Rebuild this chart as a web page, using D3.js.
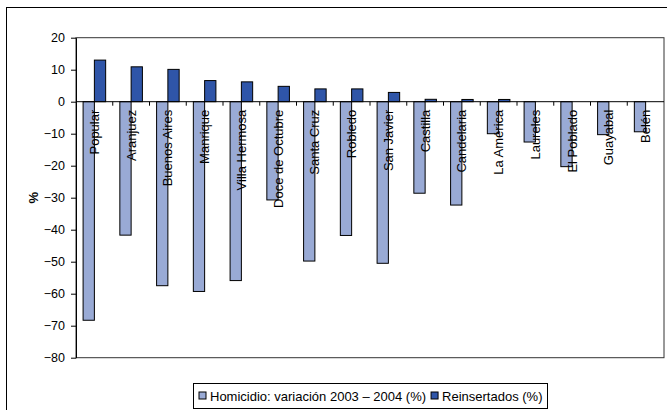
<!DOCTYPE html>
<html>
<head>
<meta charset="utf-8">
<script src="https://cdn.jsdelivr.net/npm/d3@7/dist/d3.min.js"></script>
<style>
  html, body { margin: 0; padding: 0; background: #fff; }
  svg { display: block; }
  text { font-family: "Liberation Sans", Arial, sans-serif; }
</style>
</head>
<body>
<svg id="chart" width="667" height="410"></svg>
<script>
const categories = ["Popular", "Aranjuez", "Buenos Aires", "Manrique", "Villa Hermosa",
  "Doce de Octubre", "Santa Cruz", "Robledo", "San Javier", "Castilla", "Candelaria",
  "La América", "Laureles", "El Poblado", "Guayabal", "Belén"];
const homicidio = [-68.3, -41.7, -57.5, -59.3, -55.9, -30.7, -49.8, -41.8, -50.5, -28.6,
  -32.3, -10.0, -12.6, -20.3, -10.3, -9.4];
const reinsertados = [13.0, 10.9, 10.1, 6.6, 6.2, 4.8, 4.0, 4.0, 2.9, 0.75, 0.7, 0.7, 0, 0, 0, 0];
const yTicks = [20, 10, 0, -10, -20, -30, -40, -50, -60, -70, -80];
const seriesNames = ["Homicidio: variación 2003 \u2013 2004 (%)", "Reinsertados (%)"];
const colors = ["#99aad5", "#2f55a8"];

const svg = d3.select("#chart");
const plot = { left: 76, right: 664, top: 37.7, bottom: 357.7 };

// outer chart border
svg.append("rect").attr("x", 6.5).attr("y", 7.5).attr("width", 720).attr("height", 460)
  .attr("fill", "#fff").attr("stroke", "#000").attr("stroke-width", 1);

const x = d3.scaleBand().domain(categories).range([plot.left, plot.right]).paddingInner(0).paddingOuter(0);
const y = d3.scaleLinear().domain([-80, 20]).range([plot.bottom, plot.top]);

const bw = x.bandwidth();
const barW = bw * 0.307;
const off = (bw - 2 * barW) / 2;

// plot area border
svg.append("rect").attr("x", plot.left).attr("y", plot.top)
  .attr("width", plot.right - plot.left).attr("height", plot.bottom - plot.top)
  .attr("fill", "none").attr("stroke", "#333").attr("stroke-width", 1);

// bars
const g = svg.append("g");
g.selectAll("rect.h").data(categories).join("rect").attr("class", "h")
  .attr("x", (d, i) => x(d) + off)
  .attr("y", (d, i) => Math.min(y(0), y(homicidio[i])))
  .attr("width", barW)
  .attr("height", (d, i) => Math.abs(y(homicidio[i]) - y(0)))
  .attr("fill", colors[0]).attr("stroke", "#000").attr("stroke-width", 1);

g.selectAll("rect.r").data(categories).join("rect").attr("class", "r")
  .attr("x", (d, i) => x(d) + off + barW)
  .attr("y", (d, i) => Math.min(y(0), y(reinsertados[i])))
  .attr("width", barW)
  .attr("height", (d, i) => Math.abs(y(reinsertados[i]) - y(0)))
  .attr("fill", colors[1]).attr("stroke", "#000").attr("stroke-width", 1);

// y axis
const yAxis = d3.axisLeft(y).tickValues(yTicks).tickSize(5).tickPadding(6).tickSizeOuter(0);
const ya = svg.append("g").attr("transform", `translate(${plot.left},0)`).call(yAxis);
ya.select(".domain").attr("stroke", "#000");
ya.selectAll(".tick line").attr("stroke", "#000");
ya.selectAll(".tick text").attr("font-size", "12.5px").attr("fill", "#000")
  .attr("font-family", "Liberation Sans, Arial, sans-serif");

// x axis at zero with ticks between categories
const xa = svg.append("g");
xa.append("line").attr("x1", plot.left).attr("x2", plot.right)
  .attr("y1", y(0)).attr("y2", y(0)).attr("stroke", "#000");
xa.selectAll("line.t").data(categories.slice(1)).join("line").attr("class", "t")
  .attr("x1", d => x(d)).attr("x2", d => x(d))
  .attr("y1", y(0)).attr("y2", y(0) + 4).attr("stroke", "#000");

// category labels (rotated)
svg.append("g").selectAll("text").data(categories).join("text")
  .attr("transform", d => `translate(${x(d) + bw / 2},${y(0) + 8}) rotate(-90)`)
  .attr("text-anchor", "end").attr("dy", "0.35em")
  .attr("font-size", "13px").attr("fill", "#000")
  .text(d => d);

// y title
svg.append("text").attr("transform", `translate(33,${(plot.top + plot.bottom) / 2}) rotate(-90)`)
  .attr("text-anchor", "middle").attr("dy", "0.35em")
  .attr("font-size", "13px").attr("font-weight", "bold").text("%");

// legend
const leg = svg.append("g");
const legY = 383.5, legH = 25;
const items = leg.selectAll("g").data(seriesNames).join("g");
const widths = [];
items.each(function (d, i) {
  const it = d3.select(this);
  it.append("rect").attr("x", 0).attr("y", -4).attr("width", 7).attr("height", 7)
    .attr("fill", colors[i]).attr("stroke", "#000").attr("stroke-width", 1);
  const t = it.append("text").attr("x", 11).attr("y", 0).attr("dy", "0.35em")
    .attr("font-size", "13px").text(d);
  widths.push(11 + t.node().getComputedTextLength());
});
const gap = 5, padL = 5, padR = 5;
const totalW = padL + widths[0] + gap + widths[1] + padR;
const legX = (plot.left + plot.right) / 2 - totalW / 2;
leg.insert("rect", ":first-child").attr("x", Math.round(legX) + 0.5).attr("y", legY)
  .attr("width", Math.round(totalW)).attr("height", legH)
  .attr("fill", "#fff").attr("stroke", "#000");
let pos = Math.round(legX) + padL + 1;
items.each(function (d, i) {
  d3.select(this).attr("transform", `translate(${pos},${legY + legH / 2})`);
  pos += widths[i] + gap;
});
</script>
</body>
</html>
